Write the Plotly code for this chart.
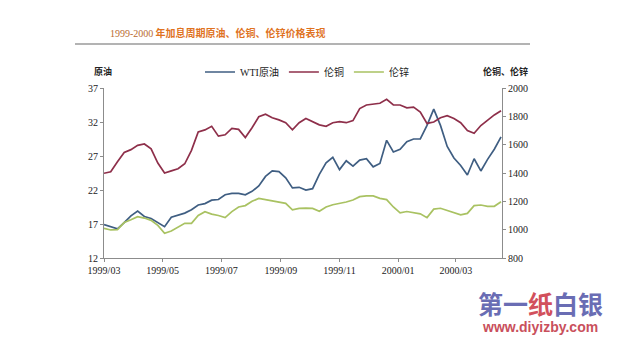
import plotly.graph_objects as go

dates = [
    "1999-03-01", "1999-03-08", "1999-03-15", "1999-03-22", "1999-03-29",
    "1999-04-05", "1999-04-12", "1999-04-19", "1999-04-26",
    "1999-05-03", "1999-05-10", "1999-05-17", "1999-05-24", "1999-05-31",
    "1999-06-07", "1999-06-14", "1999-06-21", "1999-06-28",
    "1999-07-05", "1999-07-12", "1999-07-19", "1999-07-26",
    "1999-08-02", "1999-08-09", "1999-08-16", "1999-08-23", "1999-08-30",
    "1999-09-06", "1999-09-13", "1999-09-20", "1999-09-27",
    "1999-10-04", "1999-10-11", "1999-10-18", "1999-10-25",
    "1999-11-01", "1999-11-08", "1999-11-15", "1999-11-22", "1999-11-29",
    "1999-12-06", "1999-12-13", "1999-12-20", "1999-12-27",
    "2000-01-03", "2000-01-10", "2000-01-17", "2000-01-24", "2000-01-31",
    "2000-02-07", "2000-02-14", "2000-02-21", "2000-02-28",
    "2000-03-06", "2000-03-13", "2000-03-20", "2000-03-27",
    "2000-04-03", "2000-04-10", "2000-04-17",
]

wti = [
    16.9, 16.6, 16.3, 17.2, 18.2, 18.9, 18.1, 17.8, 17.2,
    16.6, 18.0, 18.3, 18.6, 19.1, 19.8, 20.0, 20.5, 20.6,
    21.3, 21.5, 21.5, 21.3, 21.8, 22.6, 24.0, 24.8, 24.7,
    23.8, 22.3, 22.4, 22.0, 22.2, 24.3, 26.0, 26.8,
    25.0, 26.3, 25.5, 26.4, 26.6, 25.4, 25.9, 29.3, 27.6,
    28.0, 29.1, 29.5, 29.5, 31.5, 33.9, 31.5, 28.4, 26.7,
    25.6, 24.2, 26.6, 24.8, 26.5, 28.0, 29.8,
]

copper = [
    1398, 1409, 1480, 1545, 1565, 1595, 1605, 1570, 1470,
    1400, 1415, 1430, 1465, 1560, 1690, 1704, 1730, 1660,
    1670, 1715, 1708, 1650, 1720, 1797, 1815, 1790, 1775,
    1755, 1705, 1755, 1785, 1760, 1740, 1730, 1755,
    1762, 1755, 1770, 1855, 1880, 1885, 1892, 1920, 1880,
    1880, 1860, 1865, 1830, 1750, 1760, 1790, 1805, 1785,
    1755, 1700, 1680, 1735, 1775, 1810, 1840,
]

zinc = [
    1010, 998, 1000, 1050, 1070, 1092, 1082, 1066, 1030,
    975, 990, 1018, 1045, 1045, 1100, 1127, 1110, 1100,
    1085, 1127, 1160, 1170, 1200, 1220, 1212, 1205, 1197,
    1186, 1140, 1150, 1152, 1150, 1130, 1160, 1176,
    1184, 1195, 1209, 1233, 1238, 1238, 1221, 1212, 1160,
    1118, 1128, 1122, 1112, 1085, 1145, 1151, 1135, 1120,
    1104, 1115, 1170, 1174, 1165, 1165, 1197,
]

x_ticks = ["1999-03-01", "1999-05-01", "1999-07-01", "1999-09-01",
           "1999-11-01", "2000-01-01", "2000-03-01"]
x_tick_labels = ["1999/03", "1999/05", "1999/07", "1999/09",
                 "1999/11", "2000/01", "2000/03"]

SERIF = "Liberation Serif, Noto Sans CJK SC"
CJK = "Noto Sans CJK SC"

fig = go.Figure()
fig.add_trace(go.Scatter(x=dates, y=wti, name="WTI原油", mode="lines",
                         line=dict(color="#3f5e82", width=1.7), yaxis="y"))
fig.add_trace(go.Scatter(x=dates, y=copper, name="伦铜", mode="lines",
                         line=dict(color="#8e2f4a", width=1.7), yaxis="y2"))
fig.add_trace(go.Scatter(x=dates, y=zinc, name="伦锌", mode="lines",
                         line=dict(color="#a9c262", width=1.7), yaxis="y2"))

L, R, T, B = 104, 117, 88, 83
W, H = 619, 341
pw, ph = W - L - R, H - T - B

def px(xp):
    return (xp - L) / pw

def py(yp):
    return (H - B - yp) / ph

axis_common = dict(showgrid=False, zeroline=False, showline=True,
                   linecolor="#8c8c8c", linewidth=1, ticks="outside",
                   ticklen=3, tickcolor="#8c8c8c",
                   tickfont=dict(family=SERIF, size=10, color="#222"))

fig.update_layout(
    width=W, height=H,
    margin=dict(l=L, r=R, t=T, b=B, pad=0),
    paper_bgcolor="white", plot_bgcolor="white",
    showlegend=True,
    legend=dict(orientation="h", x=px(307), xanchor="center",
                y=py(72), yanchor="middle",
                font=dict(family=SERIF, size=10, color="#222"),
                itemwidth=30, bgcolor="rgba(0,0,0,0)"),
    xaxis=dict(type="date", range=["1999-03-01", "2000-04-18"],
               tickvals=x_ticks, ticktext=x_tick_labels, **axis_common),
    yaxis=dict(range=[12, 37], tickvals=[12, 17, 22, 27, 32, 37], **axis_common),
    yaxis2=dict(range=[800, 2000], tickvals=[800, 1000, 1200, 1400, 1600, 1800, 2000],
                overlaying="y", side="right", **axis_common),
    annotations=[
        dict(xref="paper", yref="paper", x=px(108), y=py(32),
             xanchor="left", yanchor="middle", showarrow=False,
             text="<span style='font-family:Liberation Serif;color:#b86a2e'>1999-2000</span> "
                  "<b>年加息周期原油、伦铜、伦锌价格表现</b>",
             font=dict(family=CJK, size=10, color="#e0731f")),
        dict(xref="paper", yref="paper", x=px(103), y=py(72),
             xanchor="center", yanchor="middle", showarrow=False,
             text="<b>原油</b>", font=dict(family=CJK, size=9, color="#222")),
        dict(xref="paper", yref="paper", x=px(505), y=py(72),
             xanchor="center", yanchor="middle", showarrow=False,
             text="<b>伦铜、伦锌</b>", font=dict(family=CJK, size=9, color="#222")),
        dict(xref="paper", yref="paper", x=px(540), y=py(303),
             xanchor="center", yanchor="middle", showarrow=False,
             text="<b><span style='color:#6a6db4'>第一</span>"
                  "<span style='color:#d2505c'>纸</span>"
                  "<span style='color:#6a6db4'>白银</span></b>",
             font=dict(family=CJK, size=25, color="#6a6db4")),
        dict(xref="paper", yref="paper", x=px(540), y=py(327),
             xanchor="center", yanchor="middle", showarrow=False,
             text="<b>www.diyizby.com</b>",
             font=dict(family="Liberation Sans", size=14, color="#c9505c")),
    ],
    shapes=[
        dict(type="line", xref="paper", yref="paper",
             x0=px(75), x1=px(530), y0=py(44), y1=py(44),
             line=dict(color="#9a9a9a", width=1.5)),
    ],
)

fig.write_html("out.html")
